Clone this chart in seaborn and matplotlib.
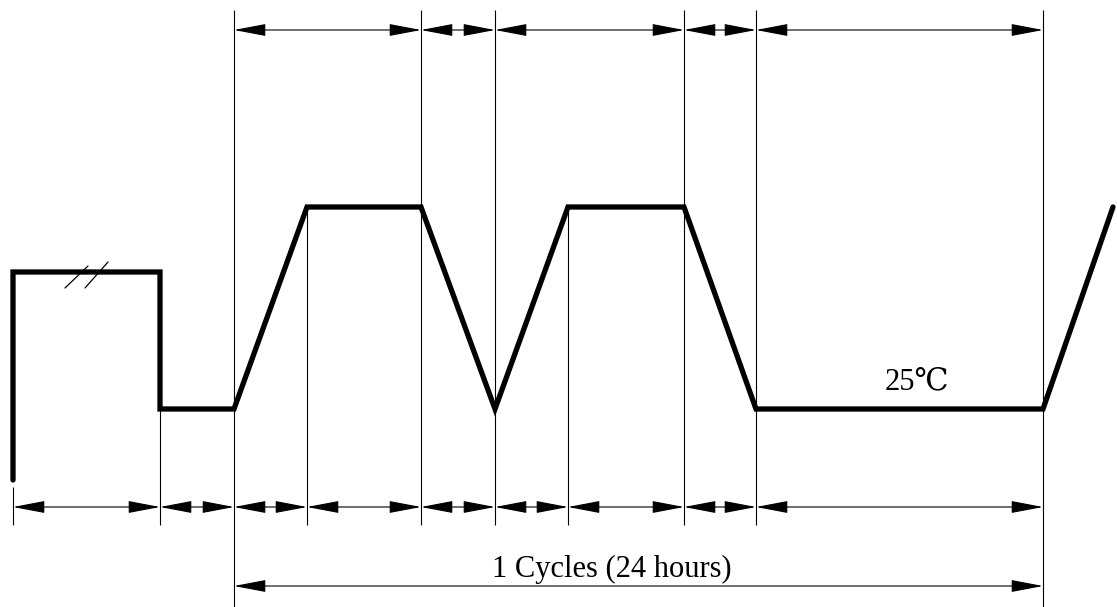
import numpy as np
import pandas as pd
import seaborn as sns
import matplotlib.pyplot as plt

# temperature profile (schematic units, y grows downward like the drawing)
profile_t = [13, 13, 160, 160, 234, 307, 421, 495, 568, 684, 756, 1043, 1113]
profile_level = [480, 272, 272, 409, 409, 207, 207, 409, 207, 207, 409, 409, 207]

# thin vertical guide lines
guide_x = [13, 160, 234, 307, 421, 495, 568, 684, 756, 1043]
guide_top = [487, 409, 10, 210, 10, 10, 210, 10, 10, 10]
guide_bottom = [525, 525, 607, 525, 525, 525, 525, 525, 525, 607]

# dimension rows
top_marks = [234, 421, 495, 684, 756, 1043]
bottom_marks = [13, 160, 234, 307, 421, 495, 568, 684, 756, 1043]
cycle_marks = [234, 1043]
top_row, bottom_row, cycle_row = 30, 507, 586

# break symbol on the first dwell
break_x0 = [65, 85]
break_x1 = [88, 108]
break_y0 = [288, 288]
break_y1 = [266, 262]

cycle_label = "1 Cycles (24 hours)"
temp_label = "25℃"

sns.set_style("white")
fig = plt.figure(figsize=(11.17, 6.07), dpi=100)
ax = fig.add_axes([0, 0, 1, 1])

df = pd.DataFrame({"t": profile_t, "level": profile_level})
sns.lineplot(data=df, x="t", y="level", sort=False, estimator=None,
             color="black", linewidth=3.8, ax=ax, solid_joinstyle="miter")

ax.vlines(guide_x, guide_top, guide_bottom, color="black", linewidth=0.8)

for x0, x1, y0, y1 in zip(break_x0, break_x1, break_y0, break_y1):
    ax.plot([x0, x1], [y0, y1], color="black", linewidth=0.9)


def dim_row(marks, y):
    for a, b in zip(marks[:-1], marks[1:]):
        ax.annotate("", xy=(b, y), xytext=(a, y),
                    arrowprops=dict(arrowstyle="<|-|>,head_length=2.0,head_width=0.38",
                                    mutation_scale=10, color="black", lw=0.8,
                                    shrinkA=0, shrinkB=0))


dim_row(top_marks, top_row)
dim_row(bottom_marks, bottom_row)
dim_row(cycle_marks, cycle_row)

fonts = ["Liberation Serif", "DejaVu Serif", "DejaVu Sans", "Noto Sans CJK SC"]
ax.text(612, 577, cycle_label, ha="center", va="baseline", fontsize=22,
        family=fonts, color="black")
ax.text(885, 389, temp_label, ha="left", va="baseline", fontsize=22,
        family=fonts, color="black")

ax.set_xlim(0, 1117)
ax.set_ylim(607, 0)
ax.axis("off")

fig.savefig("out.png", dpi=100)
